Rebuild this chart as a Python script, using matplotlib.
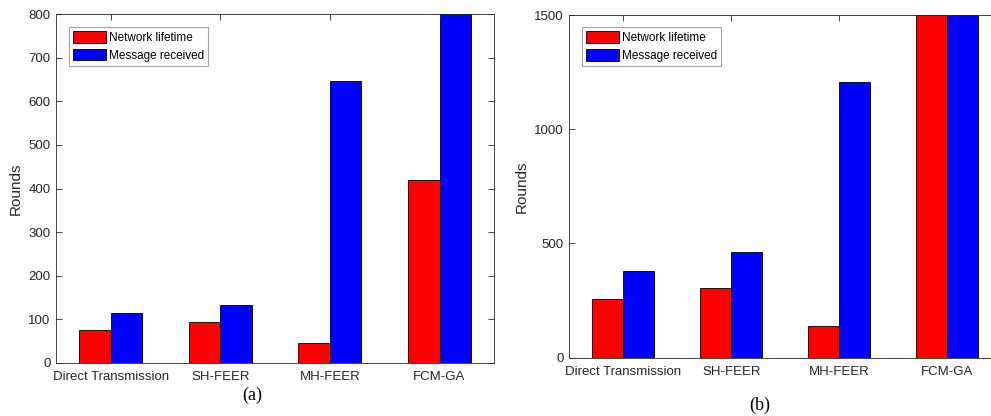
import matplotlib
matplotlib.use("Agg")
import matplotlib.pyplot as plt
import numpy as np

categories = ["Direct Transmission", "SH-FEER", "MH-FEER", "FCM-GA"]
lifetime_a = [75, 93, 46, 419]
received_a = [115, 132, 647, 800]
lifetime_b = [255, 305, 140, 1500]
received_b = [381, 461, 1208, 1500]
series_names = ["Network lifetime", "Message received"]
yticks_a = [0, 100, 200, 300, 400, 500, 600, 700, 800]
yticks_b = [0, 500, 1000, 1500]

plt.rcParams['font.family'] = ['Liberation Sans', 'DejaVu Sans']
TXT = '#262626'
EDGE = '#262626'

fig = plt.figure(figsize=(9.91, 4.16), dpi=100)
ax1 = fig.add_axes([0.0565, 0.1281, 0.4423, 0.8375])
ax2 = fig.add_axes([0.5745, 0.1401, 0.4356, 0.8238])

def draw(ax, lt, rc, yt, ymax, legx, legy):
    x = np.arange(1, len(categories) + 1)
    w = 0.287
    ax.bar(x - w/2, lt, w, color='#ff0000', edgecolor='black', linewidth=0.6, label=series_names[0])
    ax.bar(x + w/2, rc, w, color='#0000ff', edgecolor='black', linewidth=0.6, label=series_names[1])
    ax.set_xlim(0.5, 4.5)
    ax.set_ylim(0, ymax)
    ax.set_xticks(x)
    ax.set_xticklabels(categories)
    ax.set_yticks(yt)
    ax.tick_params(direction='in', top=True, right=True, length=4, width=0.6,
                   colors=EDGE, labelcolor=TXT, labelsize=9.5)
    ax.tick_params(axis='x', pad=6)
    ax.tick_params(axis='y', pad=4)
    for s in ax.spines.values():
        s.set_color(EDGE)
        s.set_linewidth(0.6)
    ax.set_ylabel("Rounds", fontsize=11, color=TXT, labelpad=4)
    leg = ax.legend(loc='upper left', bbox_to_anchor=(legx, legy), borderaxespad=0,
                    fontsize=8.5, frameon=True, fancybox=False, handlelength=2.8,
                    handleheight=1.15, handletextpad=0.2, borderpad=0.35, labelspacing=0.42)
    leg.get_frame().set_edgecolor('#8c8c8c')
    leg.get_frame().set_linewidth(0.8)
    for t in leg.get_texts():
        t.set_color('black')

draw(ax1, lifetime_a, received_a, yticks_a, 800, 0.0297, 0.9644)
draw(ax2, lifetime_b, received_b, yticks_b, 1500, 0.0294, 0.965)

fig.text(252/991, 1 - 395/416, "(a)", ha='center', va='center', fontsize=13,
         family=['Liberation Serif', 'DejaVu Serif'], color='black')
fig.text(760/991, 1 - 405/416, "(b)", ha='center', va='center', fontsize=13,
         family=['Liberation Serif', 'DejaVu Serif'], color='black')

fig.savefig("out.png", dpi=100)
